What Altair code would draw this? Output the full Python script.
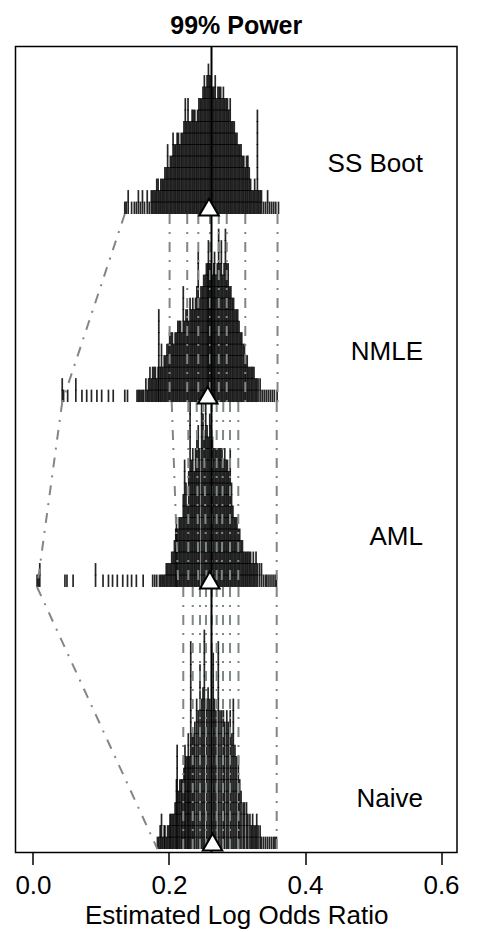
import altair as alt
import pandas as pd

FONT = "Liberation Sans, Arial, Helvetica, sans-serif"

# Stacked estimates per method: (estimated log odds ratio, number stacked at that value)
ss_boot = [
    (0.135, 1), (0.137, 1), (0.140, 2), (0.145, 1), (0.149, 1), (0.152, 1), (0.155, 2), (0.158, 1),
    (0.161, 2), (0.164, 1), (0.168, 2), (0.171, 1), (0.174, 2), (0.176, 2), (0.178, 2), (0.180, 2),
    (0.182, 3), (0.184, 3), (0.186, 2), (0.188, 3), (0.190, 3), (0.192, 3), (0.194, 4), (0.196, 4),
    (0.198, 6), (0.200, 4), (0.202, 5), (0.204, 5), (0.206, 7), (0.208, 6), (0.210, 6), (0.212, 7),
    (0.214, 7), (0.216, 6), (0.218, 7), (0.220, 7), (0.222, 8), (0.224, 10), (0.226, 8), (0.228, 10),
    (0.230, 8), (0.232, 8), (0.234, 9), (0.236, 9), (0.238, 9), (0.240, 8), (0.242, 9), (0.244, 10),
    (0.246, 10), (0.248, 10), (0.250, 11), (0.252, 12), (0.254, 11), (0.256, 12), (0.258, 13), (0.260, 12),
    (0.262, 12), (0.264, 11), (0.266, 11), (0.268, 12), (0.270, 10), (0.272, 11), (0.274, 11), (0.276, 11),
    (0.278, 10), (0.280, 11), (0.282, 10), (0.284, 10), (0.286, 10), (0.288, 9), (0.290, 10), (0.292, 8),
    (0.294, 8), (0.296, 8), (0.298, 7), (0.300, 7), (0.302, 6), (0.304, 6), (0.306, 6), (0.308, 5),
    (0.310, 5), (0.312, 4), (0.314, 5), (0.316, 5), (0.318, 4), (0.320, 3), (0.322, 2), (0.324, 2),
    (0.326, 3), (0.328, 2), (0.330, 9), (0.332, 2), (0.334, 2), (0.336, 2), (0.339, 1), (0.342, 1),
    (0.345, 2), (0.348, 1), (0.351, 1), (0.354, 1), (0.357, 1), (0.361, 1),
]

nmle = [
    (0.043, 2), (0.045, 1), (0.051, 1), (0.063, 2), (0.072, 1), (0.079, 1), (0.086, 1), (0.094, 1),
    (0.101, 1), (0.111, 1), (0.118, 1), (0.135, 1), (0.139, 1), (0.153, 1), (0.155, 1), (0.157, 1),
    (0.159, 1), (0.161, 1), (0.163, 1), (0.166, 2), (0.168, 1), (0.170, 2), (0.172, 3), (0.174, 2),
    (0.176, 3), (0.178, 3), (0.180, 3), (0.182, 2), (0.184, 3), (0.185, 8), (0.187, 3), (0.189, 5),
    (0.191, 3), (0.193, 4), (0.195, 4), (0.197, 5), (0.199, 5), (0.201, 6), (0.203, 6), (0.205, 6),
    (0.207, 5), (0.209, 6), (0.211, 6), (0.213, 7), (0.215, 7), (0.217, 7), (0.219, 6), (0.221, 10),
    (0.223, 7), (0.225, 8), (0.227, 8), (0.229, 7), (0.231, 9), (0.233, 8), (0.235, 9), (0.237, 8),
    (0.239, 9), (0.241, 10), (0.243, 13), (0.245, 9), (0.247, 10), (0.249, 10), (0.251, 11), (0.253, 11),
    (0.255, 12), (0.257, 12), (0.258, 14), (0.260, 12), (0.262, 12), (0.264, 11), (0.266, 12), (0.267, 13),
    (0.269, 11), (0.271, 12), (0.273, 15), (0.275, 12), (0.277, 14), (0.279, 11), (0.281, 12), (0.283, 15),
    (0.285, 12), (0.287, 12), (0.289, 10), (0.291, 10), (0.293, 9), (0.295, 9), (0.297, 8), (0.299, 8),
    (0.301, 8), (0.303, 7), (0.305, 6), (0.307, 6), (0.309, 5), (0.311, 5), (0.313, 4), (0.315, 4),
    (0.317, 3), (0.319, 3), (0.321, 3), (0.323, 3), (0.325, 3), (0.327, 2), (0.329, 2), (0.331, 2),
    (0.334, 2), (0.337, 1), (0.340, 1), (0.343, 1), (0.346, 1), (0.349, 1), (0.352, 1), (0.355, 1),
    (0.359, 1),
]

aml = [
    (0.006, 1), (0.008, 1), (0.010, 2), (0.047, 1), (0.050, 1), (0.059, 1), (0.092, 2), (0.103, 1),
    (0.111, 1), (0.117, 1), (0.124, 1), (0.132, 1), (0.139, 1), (0.145, 1), (0.152, 1), (0.162, 1),
    (0.176, 1), (0.179, 1), (0.182, 1), (0.186, 1), (0.188, 1), (0.190, 1), (0.192, 1), (0.194, 1),
    (0.196, 2), (0.198, 2), (0.200, 2), (0.202, 2), (0.204, 3), (0.206, 3), (0.208, 4), (0.210, 5),
    (0.211, 6), (0.213, 5), (0.215, 6), (0.217, 6), (0.219, 6), (0.221, 8), (0.223, 11), (0.225, 9),
    (0.227, 7), (0.229, 10), (0.231, 16), (0.233, 11), (0.235, 12), (0.237, 10), (0.239, 12), (0.241, 13),
    (0.243, 14), (0.245, 12), (0.248, 16), (0.250, 15), (0.252, 13), (0.254, 16), (0.256, 14), (0.258, 13),
    (0.260, 15), (0.262, 14), (0.264, 13), (0.266, 12), (0.268, 12), (0.270, 12), (0.272, 12), (0.274, 12),
    (0.276, 12), (0.278, 12), (0.280, 11), (0.282, 12), (0.284, 11), (0.286, 11), (0.288, 10), (0.290, 12),
    (0.292, 9), (0.294, 7), (0.296, 6), (0.298, 6), (0.300, 6), (0.302, 5), (0.304, 5), (0.306, 4),
    (0.308, 4), (0.310, 3), (0.312, 3), (0.314, 3), (0.316, 3), (0.318, 3), (0.320, 3), (0.322, 2),
    (0.324, 3), (0.326, 2), (0.328, 3), (0.330, 2), (0.333, 2), (0.336, 2), (0.339, 1), (0.342, 1),
    (0.344, 1), (0.347, 1), (0.350, 1), (0.353, 1), (0.356, 1), (0.358, 1),
]

naive = [
    (0.183, 1), (0.185, 1), (0.187, 2), (0.189, 3), (0.191, 1), (0.193, 2), (0.194, 2), (0.196, 1),
    (0.198, 2), (0.200, 2), (0.2015, 3), (0.203, 3), (0.205, 3), (0.207, 3), (0.209, 4), (0.211, 6),
    (0.212, 9), (0.214, 5), (0.216, 6), (0.218, 6), (0.2196, 6), (0.222, 7), (0.2235, 9), (0.225, 8),
    (0.227, 8), (0.2284, 10), (0.230, 8), (0.232, 18), (0.234, 10), (0.236, 10), (0.238, 11), (0.2407, 13),
    (0.243, 12), (0.2456, 16), (0.248, 13), (0.250, 14), (0.252, 19), (0.2554, 13), (0.2575, 14), (0.260, 13),
    (0.2625, 12), (0.265, 17), (0.267, 13), (0.269, 12), (0.2725, 18), (0.275, 12), (0.2775, 12), (0.280, 12),
    (0.282, 11), (0.285, 12), (0.287, 11), (0.290, 12), (0.2925, 10), (0.2946, 13), (0.297, 9), (0.299, 8),
    (0.302, 8), (0.304, 6), (0.306, 5), (0.309, 4), (0.311, 4), (0.314, 4), (0.316, 3), (0.319, 3),
    (0.321, 2), (0.323, 3), (0.325, 2), (0.327, 2), (0.329, 3), (0.331, 2), (0.334, 2), (0.336, 1),
    (0.339, 1), (0.342, 1), (0.345, 1), (0.348, 1), (0.351, 1), (0.354, 1), (0.356, 1), (0.358, 1),
]

methods = ["SS Boot", "NMLE", "AML", "Naive"]
method_means = [0.2588, 0.2570, 0.2600, 0.2640]
true_log_or = 0.2625

# Quantile connectors between neighbouring methods (upper end, lower end)
q_ssboot_nmle_top = [0.2009, 0.2268, 0.2431, 0.2603, 0.2732, 0.2849, 0.3122, 0.3596]
q_ssboot_nmle_bot = [0.2009, 0.2268, 0.2431, 0.2603, 0.2732, 0.2849, 0.3122, 0.3596]
q_nmle_aml_top = [0.2040, 0.2284, 0.2407, 0.2504, 0.2628, 0.2701, 0.2799, 0.2897, 0.3019, 0.3584]
q_nmle_aml_bot = [0.2137, 0.2284, 0.2431, 0.2554, 0.2628, 0.2701, 0.2775, 0.2897, 0.3019, 0.3584]
q_aml_naive_top = [0.2210, 0.2349, 0.2456, 0.2544, 0.2629, 0.2701, 0.2794, 0.2897, 0.3022, 0.3584]
q_aml_naive_bot = [0.2210, 0.2349, 0.2456, 0.2544, 0.2629, 0.2701, 0.2794, 0.2897, 0.3022, 0.3584]

# ---- layout (vertical axis is measured in stacked-glyph units) ----
PAD_L, PAD_T = 15.5, 46.5
PLOT_W, PLOT_H = 441.5, 806
UNIT_PX = 11.5
Y_TOP = PLOT_H / UNIT_PX
base = {"SS Boot": 55.52, "NMLE": 39.17, "AML": 23.09, "Naive": 0.30}
GLYPH = 1.08  # each stacked "|" overlaps the next slightly

series = {"SS Boot": ss_boot, "NMLE": nmle, "AML": aml, "Naive": naive}

glyph_rows = []
for m in methods:
    b = base[m]
    for xv, n in series[m]:
        for k in range(n):
            glyph_rows.append({"x": xv, "y": b + k, "y2": b + k + GLYPH})
glyphs = pd.DataFrame(glyph_rows)

seg_rows = []
pairs = [
    ("SS Boot", "NMLE", q_ssboot_nmle_top, q_ssboot_nmle_bot),
    ("NMLE", "AML", q_nmle_aml_top, q_nmle_aml_bot),
    ("AML", "Naive", q_aml_naive_top, q_aml_naive_bot),
]
for up, lo, tops, bots in pairs:
    for t, bt in zip(tops, bots):
        seg_rows.append({"x": t, "x2": bt, "y": base[up], "y2": base[lo]})
segments = pd.DataFrame(seg_rows)

min_rows = []
for up, lo in zip(methods[:-1], methods[1:]):
    min_rows.append({
        "x": min(v for v, _ in series[up]),
        "x2": min(v for v, _ in series[lo]),
        "y": base[up],
        "y2": base[lo],
    })
min_links = pd.DataFrame(min_rows)

means_df = pd.DataFrame({
    "x": method_means,
    "y": [base[m] + 0.6 for m in methods],
})
labels_df = pd.DataFrame({
    "x": [0.5735] * 4,
    "y": [base[m] + 3.65 for m in methods],
    "label": methods,
})
truth_df = pd.DataFrame({"x": [true_log_or]})

xscale = alt.Scale(domain=[-0.0257, 0.6235], nice=False, zero=False)
yscale = alt.Scale(domain=[0, Y_TOP], nice=False, zero=False)
xaxis = alt.Axis(
    values=[0.0, 0.2, 0.4, 0.6], format=".1f", title="Estimated Log Odds Ratio",
    grid=False, domain=False, tickSize=12, tickWidth=1.5, tickColor="black",
    labelFontSize=26, titleFontSize=26, labelFont=FONT, titleFont=FONT,
    labelColor="black", titleColor="black", titleFontWeight="normal",
    labelPadding=8, titlePadding=4, labelFlush=False, labelOverlap=False,
)


def X(field="x"):
    return alt.X(f"{field}:Q", scale=xscale, axis=xaxis)


def Y(field="y"):
    return alt.Y(f"{field}:Q", scale=yscale, axis=None)


spikes = alt.Chart(glyphs).mark_rule(color="black", opacity=0.85, strokeWidth=1.7).encode(
    x=X(), y=Y(), y2="y2:Q"
)

dash = [10, 8, 2, 8]
quant = alt.Chart(segments).mark_rule(color="#7f8787", strokeWidth=2, strokeDash=dash).encode(
    x=X(), x2="x2:Q", y=Y(), y2="y2:Q"
)
mins = alt.Chart(min_links).mark_rule(color="#7f8787", strokeWidth=2, strokeDash=dash).encode(
    x=X(), x2="x2:Q", y=Y(), y2="y2:Q"
)

truth = alt.Chart(truth_df).mark_rule(color="black", strokeWidth=2).encode(x=X())

tri = alt.Chart(means_df).mark_point(
    shape="triangle-up", filled=True, fill="white", stroke="black",
    strokeWidth=2, size=380, opacity=1
).encode(x=X(), y=Y())

labels = alt.Chart(labels_df).mark_text(
    align="right", baseline="alphabetic", fontSize=26, font=FONT, color="black"
).encode(x=X(), y=Y(), text="label:N")

chart = (
    alt.layer(spikes, quant, mins, truth, tri, labels)
    .properties(
        width=PLOT_W, height=PLOT_H,
        background="white",
        title=alt.TitleParams(
            "99% Power", fontSize=25, fontWeight="bold", font=FONT,
            anchor="middle", baseline="alphabetic", offset=-13, color="black",
        ),
        autosize=alt.AutoSizeParams(type="none"),
        padding={"left": PAD_L, "top": PAD_T,
                 "right": 479 - PAD_L - PLOT_W, "bottom": 932 - PAD_T - PLOT_H},
    )
    .configure_view(stroke="black", strokeWidth=1.5)
)

chart.save("out.html", embed_options={"renderer": "svg", "actions": False})
